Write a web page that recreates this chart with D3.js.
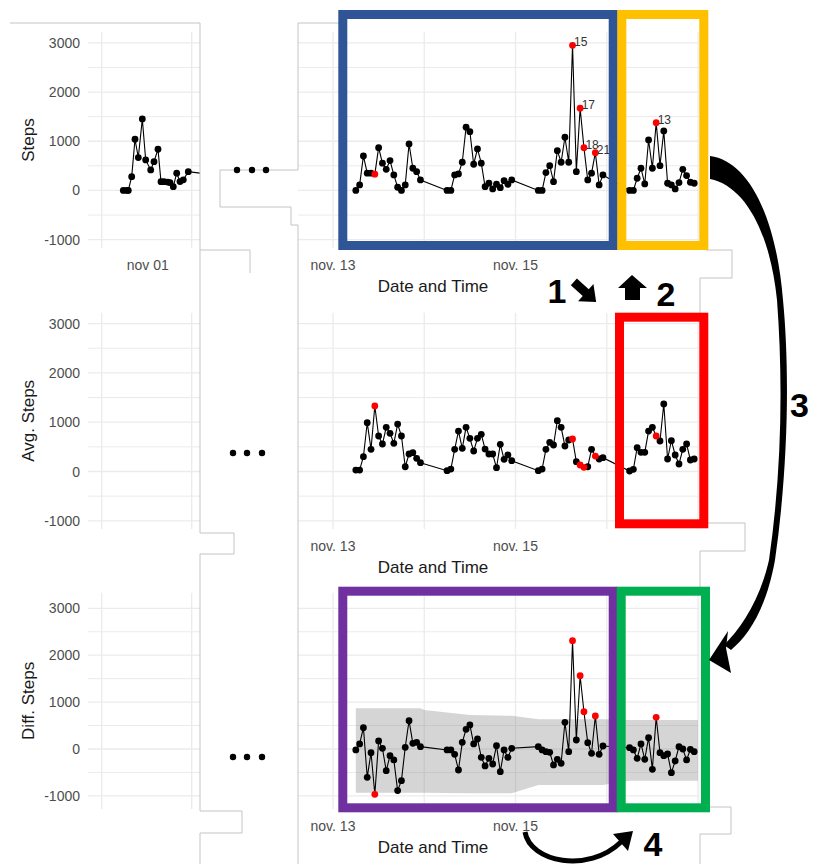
<!DOCTYPE html>
<html>
<head>
<meta charset="utf-8">
<script src="https://cdn.jsdelivr.net/npm/d3@7"></script>
<style>
  body { margin: 0; background: #fff; }
  svg { display: block; }
  text { font-family: "Liberation Sans", Arial, sans-serif; }
</style>
</head>
<body>
<svg id="fig" width="814" height="864"></svg>
<script>
// ---- data -------------------------------------------------------------
// hour of each reading, counted from 13 Nov 00:00
const hours = [
  6, 7, 8, 9, 10, 11, 12, 13, 14, 15, 16, 17, 18, 19, 20, 21, 22, 23,
  30, 31, 32, 33, 34, 35, 36, 37, 38, 39, 40, 41, 42, 43, 44, 45, 46, 47,
  54, 55, 56, 57, 58, 59, 60, 61, 62, 63, 64, 65, 66, 67, 68, 69, 70, 71,
  78, 79, 80, 81, 82, 83, 84, 85, 86, 87, 88, 89, 90, 91, 92, 93, 94, 95
];
const stepsValues = [
  0, 112, 700, 350, 350, 330, 870, 553, 430, 606, 315, 65, 0, 112, 945, 451, 382, 213,
  0, 0, 315, 335, 573, 1284, 1195, 532, 843, 553, 77, 146, 30, 126, 57, 199, 126, 213,
  0, 0, 362, 504, 179, 809, 573, 1081, 573, 2950, 382, 1671, 870, 213, 350, 768, 112, 315,
  0, 0, 248, 451, 132, 1026, 451, 1378, 504, 1209, 146, 112, 30, 159, 430, 301, 166, 146
];
const avgValues = [
  30, 30, 300, 990, 450, 1329, 720, 558, 897, 775, 572, 963, 720, 97, 355, 382, 268, 179,
  16, 50, 450, 821, 470, 897, 673, 416, 673, 754, 456, 355, 355, 77, 551, 247, 335, 219,
  16, 50, 450, 592, 538, 1031, 897, 517, 639, 659, 199, 132, 85, 97, 450, 314, 254, 280,
  10, 44, 483, 389, 389, 821, 897, 720, 619, 1369, 254, 625, 335, 152, 450, 558, 233, 254
];
const diffValues = [
  -21, 107, 455, -604, -78, -966, 171, 14, -462, -142, -234, -888, -675, 36, 604, 121, 142, 50,
  -21, -21, -113, -448, 142, 419, 512, 107, 213, -178, -362, -199, -320, 71, -483, -21, -178, 14,
  50, -21, -57, -71, -341, -220, -305, 569, -57, 2309, 192, 1563, 795, 135, -92, 704, -113, 64,
  28, -21, -199, 107, -220, 241, -433, 676, -78, -142, -107, -505, -256, 50, 0, -234, -7, -57
];
// readings flagged as anomalies, and the hour tags printed next to them
const flaggedIndex = [5, 45, 47, 48, 51, 61];
const flaggedTags  = ["", "15", "17", "18", "21", "13"];

// earlier stretch around 1 Nov (hours from 1 Nov 00:00)
const earlyHours = [-6.24, -5.33, -4.91, -4.0, -3.12, -2.24, -1.17, -0.27, 1.07, 1.95,
                    3.01, 3.81, 4.61, 5.6, 6.21, 7.09, 8.0, 8.88, 9.76, 11.09, 16.3];
const earlySteps = [0, 0, 0, 280, 1040, 667, 1453, 620, 417, 585,
                    837, 179, 179, 170, 160, 77, 350, 180, 215, 382, 330];

// expected range of the difference series
const bandHours = [6, 23, 24, 36, 47, 54, 71, 78, 96];
const bandUpper = [868, 868, 832, 725, 710, 633, 633, 618, 618];
const bandLower = [-932, -932, -935, -945, -945, -768, -768, -676, -676];

const yMajor = [-1000, 0, 1000, 2000, 3000];
const yMinor = [-500, 500, 1500, 2500];
const rightTickDays = ["2021-11-13", "2021-11-15"];
const rightTickLabels = ["nov. 13", "nov. 15"];
const leftTickLabel = "nov 01";

// ---- helpers ------------------------------------------------------------
const svg = d3.select("#fig");
const H = 3600e3;
const base = Date.UTC(2021, 10, 13);
const early = Date.UTC(2021, 10, 1);
const at = (b, h) => new Date(b + h * H);

const xRight = d3.scaleUtc().domain([at(base, 0), at(base, 96)]).range([333, 698]);
const xLeft = d3.scaleUtc().domain([at(early, -12), at(early, 12)]).range([101.7, 191.7]);

const panels = [
  { title: "Steps", top: 32, bottom: 248, domain: [-1170, 3220], values: stepsValues, early: true, tags: true },
  { title: "Avg. Steps", top: 312.7, bottom: 529, domain: [-1166, 3221], values: avgValues },
  { title: "Diff. Steps", top: 592.7, bottom: 809, domain: [-1280, 3333], values: diffValues, band: true }
];

const defs = svg.append("defs");
const gridColor = "#ebebeb";

panels.forEach((p, i) => {
  const y = d3.scaleLinear().domain(p.domain).range([p.bottom, p.top]);
  const g = svg.append("g");

  defs.append("clipPath").attr("id", "clipL" + i)
    .append("rect").attr("x", 0).attr("y", p.top - 10).attr("width", 200).attr("height", p.bottom - p.top + 20);
  defs.append("clipPath").attr("id", "clipR" + i)
    .append("rect").attr("x", 298).attr("y", p.top - 10).attr("width", 401).attr("height", p.bottom - p.top + 20);

  // horizontal grid on both pieces
  [[88, 200], [298, 699]].forEach(([x0, x1]) => {
    g.selectAll(null).data(yMinor).join("line")
      .attr("x1", x0).attr("x2", x1).attr("y1", d => y(d)).attr("y2", d => y(d))
      .attr("stroke", gridColor).attr("stroke-width", 1);
    g.selectAll(null).data(yMajor).join("line")
      .attr("x1", x0).attr("x2", x1).attr("y1", d => y(d)).attr("y2", d => y(d))
      .attr("stroke", gridColor).attr("stroke-width", 1.3);
  });
  // vertical grid
  g.selectAll(null).data([at(early, -12), at(early, 12)]).join("line")
    .attr("x1", d => xLeft(d)).attr("x2", d => xLeft(d)).attr("y1", p.top).attr("y2", p.bottom)
    .attr("stroke", gridColor).attr("stroke-width", 1.3);
  g.selectAll(null).data(d3.utcDay.range(at(base, 0), at(base, 97))).join("line")
    .attr("x1", d => xRight(d)).attr("x2", d => xRight(d)).attr("y1", p.top).attr("y2", p.bottom)
    .attr("stroke", gridColor).attr("stroke-width", 1.3);

  // y tick labels and title
  g.selectAll(null).data(yMajor).join("text")
    .attr("x", 80).attr("y", d => y(d)).attr("dy", "0.36em")
    .attr("text-anchor", "end").attr("font-size", 14).attr("fill", "#4d4d4d")
    .text(d => d);
  g.append("text")
    .attr("transform", `translate(34,${(p.top + p.bottom) / 2}) rotate(-90)`)
    .attr("text-anchor", "middle").attr("font-size", 17).attr("fill", "#1a1a1a")
    .text(p.title);

  // x tick labels and title
  g.selectAll(null).data(rightTickDays).join("text")
    .attr("x", d => xRight(d3.utcParse("%Y-%m-%d")(d))).attr("y", p.bottom + 22)
    .attr("text-anchor", "middle").attr("font-size", 14).attr("fill", "#4d4d4d")
    .text((d, k) => rightTickLabels[k]);
  if (p.early) {
    g.append("text").attr("x", xLeft(at(early, 0)) + 1).attr("y", p.bottom + 22)
      .attr("text-anchor", "middle").attr("font-size", 14).attr("fill", "#4d4d4d")
      .text(leftTickLabel);
  }
  g.append("text").attr("x", 433).attr("y", p.bottom + 43.5)
    .attr("text-anchor", "middle").attr("font-size", 17).attr("fill", "#1a1a1a")
    .text("Date and Time");

  // band of expected values
  if (p.band) {
    const bandData = bandHours.map((h, k) => ({ t: at(base, h), hi: bandUpper[k], lo: bandLower[k] }));
    g.append("path").datum(bandData)
      .attr("clip-path", `url(#clipR${i})`)
      .attr("fill", "#7f7f7f").attr("fill-opacity", 0.33)
      .attr("d", d3.area().x(d => xRight(d.t)).y0(d => y(d.lo)).y1(d => y(d.hi)));
  }

  // main series
  const pts = hours.map((h, k) => ({ t: at(base, h), v: p.values[k], flag: flaggedIndex.indexOf(k) }));
  const gr = g.append("g").attr("clip-path", `url(#clipR${i})`);
  gr.append("path").datum(pts)
    .attr("fill", "none").attr("stroke", "#000").attr("stroke-width", 1.1)
    .attr("d", d3.line().x(d => xRight(d.t)).y(d => y(d.v)));
  gr.selectAll(null).data(pts.filter(d => d.flag < 0)).join("circle")
    .attr("cx", d => xRight(d.t)).attr("cy", d => y(d.v)).attr("r", 3.4).attr("fill", "#000");
  gr.selectAll(null).data(pts.filter(d => d.flag >= 0)).join("circle")
    .attr("cx", d => xRight(d.t)).attr("cy", d => y(d.v)).attr("r", 3.4).attr("fill", "#ff0000");
  if (p.tags) {
    gr.selectAll(null).data(pts.filter(d => d.flag >= 0 && flaggedTags[d.flag])).join("text")
      .attr("x", d => xRight(d.t) + 1.5).attr("y", d => y(d.v) + 1)
      .attr("font-size", 12).attr("fill", "#333")
      .text(d => flaggedTags[d.flag]);
  }

  // earlier stretch
  if (p.early) {
    const ep = earlyHours.map((h, k) => ({ t: at(early, h), v: earlySteps[k] }));
    const gl = g.append("g").attr("clip-path", `url(#clipL${i})`);
    gl.append("path").datum(ep)
      .attr("fill", "none").attr("stroke", "#000").attr("stroke-width", 1.1)
      .attr("d", d3.line().x(d => xLeft(d.t)).y(d => y(d.v)));
    gl.selectAll(null).data(ep).join("circle")
      .attr("cx", d => xLeft(d.t)).attr("cy", d => y(d.v)).attr("r", 3.4).attr("fill", "#000");
  }
});

// ---- cut edges between the two pieces of each panel ----------------------
const edge = svg.append("g").attr("fill", "none").attr("stroke", "#c4c4c4").attr("stroke-width", 1);
[
  "M10,23 H200 V533 H234 V554 H200 V811 H242 V833 H200 V864",
  "M200,250 H250 V273",
  "M345,23 H298 V170 H220 V207 H291 V225 H298 V864",
  "M706,250 H732 V278 H700 V313",
  "M706,523 H745 V551 H700 V587",
  "M706,807 H731 V834 H700 V864"
].forEach(d => edge.append("path").attr("d", d));

// ellipsis marks for the skipped days
const skipDots = [[237, 170], [252, 170], [266, 170], [233, 453], [247, 453], [262, 453], [233, 757], [247, 757], [262, 757]];
svg.append("g").selectAll("circle").data(skipDots).join("circle")
  .attr("cx", d => d[0]).attr("cy", d => d[1]).attr("r", 3.2).attr("fill", "#000");

// ---- highlight frames -------------------------------------------------------
const frames = [
  { x: 342.8, y: 14.5, w: 270.4, h: 231, c: "#2f5597" },
  { x: 621.8, y: 14.5, w: 82, h: 231, c: "#ffc000" },
  { x: 619.5, y: 317.2, w: 84.3, h: 206.6, c: "#ff0000" },
  { x: 342.8, y: 591.2, w: 270.4, h: 216.6, c: "#7030a0" },
  { x: 621.2, y: 591.2, w: 84.3, h: 216.6, c: "#00b050" }
];
svg.append("g").selectAll("rect").data(frames).join("rect")
  .attr("x", d => d.x).attr("y", d => d.y).attr("width", d => d.w).attr("height", d => d.h)
  .attr("fill", "none").attr("stroke", d => d.c).attr("stroke-width", 9);

// ---- step arrows and numbers -----------------------------------------------
const ann = svg.append("g").attr("fill", "#000");
// 1: diagonal block arrow
ann.append("path")
  .attr("transform", "translate(585,292) rotate(42)")
  .attr("d", "M-15,-4.5 H1 V-11.5 L15,0 L1,11.5 V4.5 H-15 Z");
// 2: upward block arrow
ann.append("path").attr("d", "M625,300 V288 H618 L632,275 L647,288 H640 V300 Z");
// 3: long sweeping arrow
ann.append("path").attr("d",
  "M710,156 C748,161 776,215 783,300 C790,372 788,470 775,560 C766,610 748,636 731,650 " +
  "L724,645 C741,628 760,600 769,560 C782,470 783,380 777,300 C770,232 745,186 710,179 Z");
ann.append("path").attr("d", "M709,660 L728,631 L726,648 L731,673 Z");
// 4: short curved arrow
ann.append("path").attr("d", "M525,832 C530,862 588,874 621,842")
  .attr("fill", "none").attr("stroke", "#000").attr("stroke-width", 5);
ann.append("path").attr("d", "M633,831 L613,834 L628,851 Z");

const num = svg.append("g").attr("font-family", "'DejaVu Sans', sans-serif")
  .attr("font-weight", "bold").attr("font-size", 34).attr("fill", "#000");
num.append("text").attr("x", 557).attr("y", 303).attr("text-anchor", "middle").text("1");
num.append("text").attr("x", 666).attr("y", 306).attr("text-anchor", "middle").text("2");
num.append("text").attr("x", 790).attr("y", 417).text("3");
num.append("text").attr("x", 653).attr("y", 856).attr("text-anchor", "middle").text("4");
</script>
</body>
</html>
